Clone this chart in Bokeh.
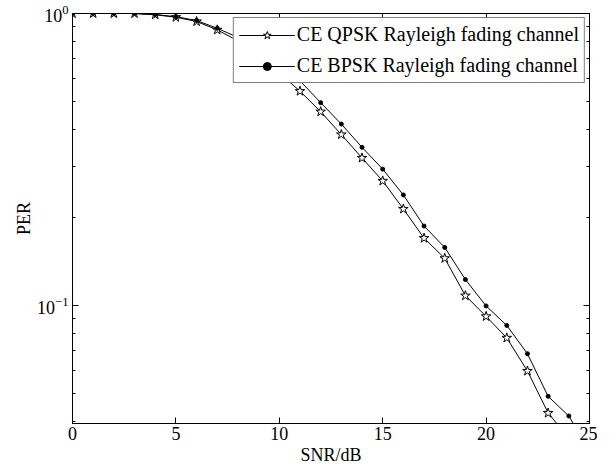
from bokeh.plotting import figure
from bokeh.models import (Range1d, FixedTicker, LogAxis, LinearAxis, Legend, LegendItem,
                          CustomJSTickFormatter)
from bokeh.embed import file_html
from bokeh.resources import INLINE

# ---- data ----
snr_qpsk = [0, 1, 2, 3, 4, 5, 6, 7, 8, 9, 10, 11, 12, 13, 14, 15, 16, 17, 18, 19, 20, 21, 22, 23, 24]
per_qpsk = [1.0, 1.0, 1.0, 1.0, 0.990, 0.971, 0.939, 0.879, 0.806, 0.713, 0.626, 0.542, 0.461,
            0.385, 0.320, 0.267, 0.214, 0.170, 0.145, 0.108, 0.0917, 0.0774, 0.0596, 0.0428, 0.0351]
snr_bpsk = [0, 1, 2, 3, 4, 5, 6, 7, 8, 9, 10, 11, 12, 13, 14, 15, 16, 17, 18, 19, 20, 21, 22, 23, 24, 25]
per_bpsk = [1.0, 1.0, 1.0, 1.0, 0.992, 0.975, 0.946, 0.890, 0.828, 0.747, 0.669, 0.588, 0.495,
            0.418, 0.348, 0.293, 0.239, 0.187, 0.158, 0.1226, 0.0996, 0.0854, 0.0683, 0.0488, 0.0418, 0.0317]
x_ticks = [0, 5, 10, 15, 20, 25]
y_major = [0.1, 1.0]
y_minor = [0.04, 0.05, 0.06, 0.07, 0.08, 0.09, 0.2, 0.3, 0.4, 0.5, 0.6, 0.7, 0.8, 0.9]
labels = ["CE QPSK Rayleigh fading channel", "CE BPSK Rayleigh fading channel"]

FONT = "Liberation Serif"

p = figure(y_axis_type="log", x_range=Range1d(0, 25), y_range=Range1d(0.0394, 1.0),
           frame_width=517, frame_height=410, output_backend="svg", toolbar_location=None,
           min_border_left=72, min_border_top=13, min_border_right=8, min_border_bottom=46,
           title=None)
p.grid.visible = False
p.outline_line_color = "black"
p.outline_line_width = 1
p.background_fill_color = "white"
p.border_fill_color = "white"

def style_axis(ax, show_labels=True):
    ax.axis_line_color = "black"
    ax.axis_line_width = 1
    ax.major_tick_in = 6
    ax.major_tick_out = 0
    ax.minor_tick_in = 3
    ax.minor_tick_out = 0
    ax.major_tick_line_color = "black"
    ax.minor_tick_line_color = "black"
    ax.major_label_text_font = FONT
    ax.major_label_text_font_size = "18px"
    ax.major_label_text_color = "black"
    ax.axis_label_text_font = FONT
    ax.axis_label_text_font_size = "18px"
    ax.axis_label_text_font_style = "normal"
    ax.axis_label_text_color = "black"
    if not show_labels:
        ax.formatter = CustomJSTickFormatter(code="return ''")
        ax.major_label_standoff = 0

xt = FixedTicker(ticks=x_ticks, minor_ticks=[])
yt = FixedTicker(ticks=y_major, minor_ticks=y_minor)

p.xaxis.ticker = xt
p.yaxis.ticker = yt
style_axis(p.xaxis[0])
style_axis(p.yaxis[0])
p.xaxis.axis_label = "SNR/dB"
p.yaxis.axis_label = "PER"
p.xaxis.major_label_standoff = 3
p.xaxis.axis_label_standoff = 2
p.yaxis.major_label_standoff = 4
p.yaxis.axis_label_standoff = 0

top_ax = LinearAxis(ticker=FixedTicker(ticks=x_ticks, minor_ticks=[]))
style_axis(top_ax, show_labels=False)
p.add_layout(top_ax, "above")
right_ax = LogAxis(ticker=FixedTicker(ticks=y_major, minor_ticks=y_minor))
style_axis(right_ax, show_labels=False)
p.add_layout(right_ax, "right")

lq = p.line(snr_qpsk, per_qpsk, line_color="black", line_width=1)
sq = p.scatter(snr_qpsk, per_qpsk, marker="star", size=10, fill_color="white",
               line_color="black", line_width=1)
lb = p.line(snr_bpsk, per_bpsk, line_color="black", line_width=1)
sb = p.scatter(snr_bpsk, per_bpsk, marker="circle", size=4, fill_color="black",
               line_color="black")

legend = Legend(items=[LegendItem(label=labels[0], renderers=[lq, sq]),
                       LegendItem(label=labels[1], renderers=[lb, sb])],
                location="top_right")
legend.label_text_font = FONT
legend.label_text_font_size = "20px"
legend.label_text_color = "black"
legend.border_line_color = "black"
legend.border_line_width = 1.5
legend.background_fill_alpha = 1
legend.glyph_width = 56
legend.glyph_height = 20
legend.label_height = 20
legend.label_standoff = 2
legend.spacing = 8
legend.padding = 5
legend.margin = 4
p.add_layout(legend)

open("out.html", "w").write(file_html(p, INLINE))
